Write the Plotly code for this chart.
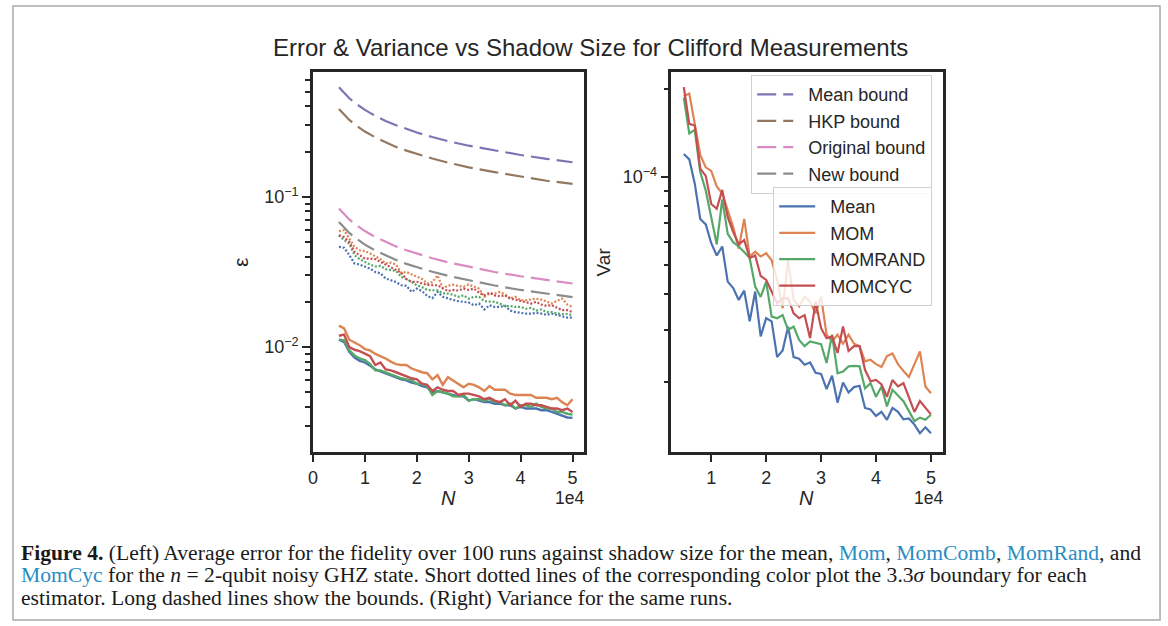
import plotly.graph_objects as go

# ---------------- data ----------------
N = [5000, 6000, 7000, 8000, 9000, 10000, 11000, 12000, 13000, 14000, 15000, 16000,
     17000, 18000, 19000, 20000, 21000, 22000, 23000, 24000, 25000, 26000, 27000, 28000,
     29000, 30000, 31000, 32000, 33000, 34000, 35000, 36000, 37000, 38000, 39000, 40000,
     41000, 42000, 43000, 44000, 45000, 46000, 47000, 48000, 49000, 50000]

# average error (solid lines, left)
err_mean = [0.0112, 0.0108, 0.0093, 0.0085, 0.0081, 0.0079, 0.0075, 0.0071, 0.0069, 0.0067,
            0.0065, 0.0063, 0.0061, 0.0060, 0.0058, 0.0057, 0.0055, 0.0054, 0.0050, 0.0051,
            0.0050, 0.0049, 0.0048, 0.0047, 0.0047, 0.0044, 0.0045, 0.0044, 0.0043, 0.0043,
            0.0042, 0.0042, 0.0041, 0.0041, 0.0039, 0.0040, 0.0039, 0.0039, 0.0039, 0.0038,
            0.0038, 0.0037, 0.0036, 0.0035, 0.0034, 0.00338]
err_mom = [0.0139, 0.0133, 0.0112, 0.0108, 0.0103, 0.0097, 0.0095, 0.0090, 0.0087, 0.0084,
           0.0080, 0.0077, 0.0076, 0.0076, 0.0072, 0.0070, 0.0068, 0.0067, 0.0061, 0.0065,
           0.0056, 0.0063, 0.0060, 0.0057, 0.0054, 0.0057, 0.0056, 0.0054, 0.0051, 0.0055,
           0.0052, 0.0052, 0.0052, 0.0049, 0.0048, 0.0048, 0.0048, 0.0048, 0.0046, 0.0046,
           0.0046, 0.0045, 0.0046, 0.0043, 0.0041, 0.0045]
err_momrand = [0.0112, 0.0111, 0.0095, 0.0088, 0.0084, 0.0082, 0.0077, 0.0070, 0.0070, 0.0068,
               0.0066, 0.0064, 0.0062, 0.0061, 0.0060, 0.0057, 0.0057, 0.0055, 0.0048, 0.0051,
               0.0050, 0.0049, 0.0047, 0.0047, 0.0048, 0.0044, 0.0045, 0.0045, 0.0044, 0.0045,
               0.0043, 0.0043, 0.0041, 0.0042, 0.0039, 0.0041, 0.0041, 0.0040, 0.0042, 0.0040,
               0.0039, 0.0039, 0.0037, 0.0037, 0.0036, 0.00355]
err_momcyc = [0.0119, 0.0121, 0.0100, 0.0096, 0.0094, 0.0090, 0.0087, 0.0076, 0.0079, 0.0071,
              0.0070, 0.0068, 0.0066, 0.0064, 0.0062, 0.0061, 0.0057, 0.0056, 0.0051, 0.0054,
              0.0052, 0.0051, 0.0051, 0.0048, 0.0049, 0.0049, 0.0048, 0.0047, 0.0045, 0.0046,
              0.0044, 0.0043, 0.0045, 0.0041, 0.0044, 0.0040, 0.0042, 0.0042, 0.0041, 0.0041,
              0.0040, 0.0039, 0.0039, 0.0038, 0.0039, 0.0037]

# 3.3 sigma boundaries (dotted lines, left)
sig_mean = [0.0465, 0.0458, 0.0409, 0.0360, 0.0354, 0.0342, 0.0333, 0.0316, 0.0310, 0.0286,
            0.0279, 0.0271, 0.0258, 0.0256, 0.0233, 0.0245, 0.0236, 0.0219, 0.0212, 0.0233,
            0.0216, 0.0210, 0.0206, 0.0202, 0.0200, 0.0198, 0.0190, 0.0195, 0.0178, 0.0190,
            0.0185, 0.0185, 0.0188, 0.0175, 0.0171, 0.0169, 0.0167, 0.0167, 0.0169, 0.0167,
            0.0164, 0.0167, 0.0163, 0.0159, 0.0157, 0.0157]
sig_mom = [0.0590, 0.0600, 0.0528, 0.0465, 0.0441, 0.0435, 0.0420, 0.0400, 0.0385, 0.0360,
           0.0365, 0.0354, 0.0312, 0.0316, 0.0305, 0.0296, 0.0284, 0.0265, 0.0270, 0.0300,
           0.0247, 0.0256, 0.0260, 0.0255, 0.0252, 0.0261, 0.0252, 0.0245, 0.0216, 0.0227,
           0.0227, 0.0233, 0.0224, 0.0210, 0.0216, 0.0205, 0.0205, 0.0208, 0.0210, 0.0207,
           0.0202, 0.0195, 0.0203, 0.0210, 0.0192, 0.0185]
sig_momrand = [0.0555, 0.0515, 0.0488, 0.0409, 0.0385, 0.0367, 0.0354, 0.0344, 0.0347, 0.0330,
               0.0325, 0.0321, 0.0293, 0.0284, 0.0271, 0.0258, 0.0251, 0.0240, 0.0239, 0.0239,
               0.0228, 0.0227, 0.0223, 0.0216, 0.0221, 0.0210, 0.0216, 0.0216, 0.0202, 0.0200,
               0.0200, 0.0195, 0.0187, 0.0188, 0.0185, 0.0185, 0.0180, 0.0182, 0.0175, 0.0178,
               0.0171, 0.0171, 0.0167, 0.0166, 0.0166, 0.0163]
sig_momcyc = [0.0555, 0.0540, 0.0501, 0.0430, 0.0409, 0.0388, 0.0388, 0.0385, 0.0369, 0.0354,
              0.0342, 0.0325, 0.0313, 0.0283, 0.0272, 0.0272, 0.0267, 0.0259, 0.0258, 0.0258,
              0.0246, 0.0236, 0.0240, 0.0238, 0.0245, 0.0240, 0.0245, 0.0230, 0.0221, 0.0230,
              0.0221, 0.0218, 0.0221, 0.0210, 0.0207, 0.0204, 0.0199, 0.0195, 0.0200, 0.0192,
              0.0188, 0.0190, 0.0183, 0.0176, 0.0176, 0.0171]

# bounds (long dashed, left)
N_bound = [5000, 6000, 7000, 8000, 9000, 10000, 12000, 14000, 16000, 18000, 20000,
           23000, 26000, 30000, 35000, 40000, 45000, 50000]
bound_mean = [0.536, 0.489, 0.453, 0.424, 0.400, 0.379, 0.346, 0.320, 0.300, 0.282, 0.268,
              0.250, 0.235, 0.219, 0.203, 0.190, 0.179, 0.170]
bound_hkp = [0.385, 0.351, 0.325, 0.304, 0.287, 0.272, 0.249, 0.230, 0.215, 0.203, 0.193,
             0.180, 0.169, 0.157, 0.146, 0.136, 0.128, 0.122]
bound_orig = [0.0837, 0.0764, 0.0707, 0.0662, 0.0624, 0.0592, 0.0540, 0.0500, 0.0468, 0.0441,
              0.0419, 0.0390, 0.0367, 0.0342, 0.0316, 0.0296, 0.0279, 0.0265]
bound_new = [0.0680, 0.0621, 0.0575, 0.0538, 0.0507, 0.0481, 0.0439, 0.0406, 0.0380, 0.0358,
             0.0340, 0.0317, 0.0298, 0.0278, 0.0257, 0.0240, 0.0227, 0.0215]

# variance (right)
var_mean = [1.20e-4, 1.15e-4, 9.5e-5, 7.2e-5, 6.9e-5, 5.95e-5, 5.4e-5, 5.8e-5, 4.4e-5, 4.18e-5,
            3.81e-5, 4.1e-5, 3.22e-5, 4.07e-5, 2.86e-5, 3.30e-5, 3.22e-5, 2.43e-5, 2.56e-5, 3.09e-5,
            2.43e-5, 2.40e-5, 2.29e-5, 2.33e-5, 2.15e-5, 2.13e-5, 1.89e-5, 2.10e-5, 1.70e-5, 1.99e-5,
            1.84e-5, 1.92e-5, 1.94e-5, 1.63e-5, 1.61e-5, 1.53e-5, 1.58e-5, 1.485e-5, 1.63e-5, 1.58e-5,
            1.49e-5, 1.50e-5, 1.43e-5, 1.337e-5, 1.40e-5, 1.337e-5]
var_mom = [1.89e-4, 1.93e-4, 1.52e-4, 1.19e-4, 1.08e-4, 1.05e-4, 9.3e-5, 8.8e-5, 7.7e-5, 6.75e-5,
           5.7e-5, 7.2e-5, 5.36e-5, 5.57e-5, 5.36e-5, 5.5e-5, 5.2e-5, 4.46e-5, 3.57e-5, 5.22e-5,
           3.81e-5, 3.62e-5, 3.91e-5, 3.76e-5, 3.43e-5, 3.91e-5, 2.9e-5, 2.75e-5, 2.9e-5, 2.7e-5,
           2.9e-5, 2.7e-5, 2.65e-5, 2.35e-5, 2.38e-5, 2.3e-5, 2.25e-5, 2.45e-5, 2.5e-5, 2.3e-5,
           2.18e-5, 2.08e-5, 2.3e-5, 2.54e-5, 1.93e-5, 1.83e-5]
var_momrand = [1.87e-4, 1.41e-4, 1.45e-4, 1.04e-4, 9.0e-5, 7.3e-5, 5.9e-5, 8.4e-5, 6.4e-5, 6.0e-5,
               5.8e-5, 5.55e-5, 5.3e-5, 4.23e-5, 3.9e-5, 4.4e-5, 3.34e-5, 3.3e-5, 3.38e-5, 3.01e-5,
               3.09e-5, 2.78e-5, 2.65e-5, 2.75e-5, 2.72e-5, 2.69e-5, 2.32e-5, 2.9e-5, 2.14e-5, 2.17e-5,
               2.26e-5, 2.27e-5, 2.26e-5, 1.9e-5, 1.98e-5, 1.78e-5, 1.93e-5, 1.65e-5, 1.88e-5, 1.8e-5,
               1.72e-5, 1.59e-5, 1.47e-5, 1.51e-5, 1.485e-5, 1.545e-5]
var_momcyc = [2.03e-4, 1.52e-4, 1.50e-4, 1.07e-4, 1.01e-4, 8.1e-5, 7.8e-5, 9.05e-5, 7.3e-5, 6.5e-5,
              5.9e-5, 6.1e-5, 5.3e-5, 5.4e-5, 4.6e-5, 4.46e-5, 4.07e-5, 3.71e-5, 3.86e-5, 3.86e-5,
              3.43e-5, 3.30e-5, 3.38e-5, 2.82e-5, 3.76e-5, 3.05e-5, 2.82e-5, 2.86e-5, 2.51e-5, 3.09e-5,
              2.55e-5, 2.65e-5, 2.65e-5, 2.20e-5, 2.01e-5, 2.03e-5, 1.96e-5, 1.78e-5, 2.03e-5, 1.93e-5,
              1.98e-5, 1.76e-5, 1.58e-5, 1.72e-5, 1.63e-5, 1.55e-5]

estimator_names = ["Mean", "MOM", "MOMRAND", "MOMCYC"]
bound_names = ["Mean bound", "HKP bound", "Original bound", "New bound"]

x_tick_vals = [0, 10000, 20000, 30000, 40000, 50000]
x_tick_text = ["0", "1", "2", "3", "4", "5"]

# ---------------- styling ----------------
W, H = 1168, 626
INK = "#262626"
FONT = "Liberation Sans, Arial, sans-serif"
est_colors = ["#4c72b0", "#dd8452", "#55a868", "#c44e52"]
bnd_colors = ["#8172b3", "#937860", "#da8bc3", "#8c8c8c"]
PAD = "\u00a0\u00a0"


def px(x):
    return x / W


def py(y):
    return 1 - y / H


fig = go.Figure()

# left: 3.3 sigma dotted
for ys, c in zip([sig_mean, sig_mom, sig_momrand, sig_momcyc], est_colors):
    fig.add_trace(go.Scatter(x=N, y=ys, mode="lines", xaxis="x", yaxis="y",
                             line=dict(color=c, width=2.2, dash="2px,1.8px"),
                             showlegend=False, hoverinfo="skip"))
# left: errors solid
for ys, c in zip([err_mean, err_mom, err_momrand, err_momcyc], est_colors):
    fig.add_trace(go.Scatter(x=N, y=ys, mode="lines", xaxis="x", yaxis="y",
                             line=dict(color=c, width=2.4),
                             showlegend=False, hoverinfo="skip"))
# left: bounds (legend 1)
for ys, c, nm in zip([bound_mean, bound_hkp, bound_orig, bound_new], bnd_colors, bound_names):
    fig.add_trace(go.Scatter(x=N_bound, y=ys, mode="lines", xaxis="x", yaxis="y",
                             name=PAD + nm, legend="legend",
                             line=dict(color=c, width=2.2, dash="19px,7px"),
                             hoverinfo="skip"))
# right: variance (legend 2)
for ys, c, nm in zip([var_mean, var_mom, var_momrand, var_momcyc], est_colors, estimator_names):
    fig.add_trace(go.Scatter(x=N, y=ys, mode="lines", xaxis="x2", yaxis="y2",
                             name=PAD + nm, legend="legend2",
                             line=dict(color=c, width=2.2),
                             hoverinfo="skip"))

axis_common = dict(showline=True, mirror=True, linewidth=2.6, linecolor=INK,
                   ticks="outside", ticklen=8, tickwidth=2.4, tickcolor=INK,
                   showgrid=False, zeroline=False,
                   tickfont=dict(family=FONT, size=18, color=INK))

ydom = [py(451.5), py(71.7)]

fig.update_layout(
    width=W, height=H,
    margin=dict(l=0, r=0, t=0, b=0),
    paper_bgcolor="white", plot_bgcolor="white",
    xaxis=dict(domain=[px(309.3), px(581.7)], range=[0, 52250], anchor="y",
               tickmode="array", tickvals=x_tick_vals, ticktext=x_tick_text, **axis_common),
    yaxis=dict(domain=ydom, type="log", range=[-2.695, -0.167], anchor="x",
               tickmode="array", tickvals=[0.01, 0.1],
               ticktext=["10<sup>−2</sup>", "10<sup>−1</sup>"],
               minor=dict(tickmode="array",
                          tickvals=[0.002, 0.003, 0.004, 0.005, 0.006, 0.007, 0.008, 0.009,
                                    0.02, 0.03, 0.04, 0.05, 0.06, 0.07, 0.08, 0.09,
                                    0.2, 0.3, 0.4, 0.5, 0.6],
                          ticks="outside", ticklen=5, tickwidth=2, tickcolor=INK),
               **axis_common),
    xaxis2=dict(domain=[px(669.3), px(942.3)], range=[2750, 52250], anchor="y2",
                tickmode="array", tickvals=x_tick_vals[1:], ticktext=x_tick_text[1:],
                **axis_common),
    yaxis2=dict(domain=ydom, type="log", range=[-4.9365, -3.640], anchor="x2",
                tickmode="array", tickvals=[1e-4], ticktext=["10<sup>−4</sup>"],
                minor=dict(tickmode="array",
                           tickvals=[2e-5, 3e-5, 4e-5, 5e-5, 6e-5, 7e-5, 8e-5, 9e-5, 2e-4],
                           ticks="outside", ticklen=5, tickwidth=2, tickcolor=INK),
                **axis_common),
    legend=dict(x=px(931), xanchor="right", y=py(75), yanchor="top",
                bgcolor="rgba(255,255,255,0.8)", bordercolor="#d0d0d0", borderwidth=1.2,
                font=dict(family=FONT, size=18, color=INK), itemwidth=36,
                tracegroupgap=0),
    legend2=dict(x=px(931), xanchor="right", y=py(187), yanchor="top",
                 bgcolor="rgba(255,255,255,0.8)", bordercolor="#d0d0d0", borderwidth=1.2,
                 font=dict(family=FONT, size=18, color=INK), itemwidth=36,
                 tracegroupgap=0),
)

annotations = [
    dict(text="Error & Variance vs Shadow Size for Clifford Measurements",
         x=px(588), y=py(47), font=dict(family=FONT, size=24, color=INK)),
    dict(text="<i>N</i>", x=px(445), y=py(498), font=dict(family=FONT, size=20, color=INK)),
    dict(text="<i>N</i>", x=px(805), y=py(498), font=dict(family=FONT, size=20, color=INK)),
    dict(text="1e4", x=px(583), y=py(498), xanchor="right",
         font=dict(family=FONT, size=17.5, color=INK)),
    dict(text="1e4", x=px(944), y=py(498), xanchor="right",
         font=dict(family=FONT, size=17.5, color=INK)),
    dict(text="ε", x=px(236), y=py(262), textangle=-90,
         font=dict(family=FONT, size=21, color=INK)),
    dict(text="Var", x=px(601), y=py(262), textangle=-90,
         font=dict(family=FONT, size=19, color=INK)),
]
LINK = "#2a8dc2"
SERIF = "Liberation Serif, Times New Roman, serif"
cap_lines = [
    "<b>Figure 4.</b> (Left) Average error for the fidelity over 100 runs against shadow size for the mean, "
    f"<span style='color:{LINK}'>Mom</span>, <span style='color:{LINK}'>MomComb</span>, "
    f"<span style='color:{LINK}'>MomRand</span>, and",
    f"<span style='color:{LINK}'>MomCyc</span> for the <i>n</i> = 2-qubit noisy GHZ state. Short dotted lines "
    "of the corresponding color plot the 3.3<i>σ</i> boundary for each",
    "estimator. Long dashed lines show the bounds. (Right) Variance for the same runs.",
]
for txt, yy in zip(cap_lines, [553, 575, 598]):
    annotations.append(dict(text=txt, x=px(14), y=py(yy), xanchor="left",
                            font=dict(family=SERIF, size=21.6, color="#1a1a1a")))
for a in annotations:
    a.setdefault("xanchor", "center")
    a.update(xref="paper", yref="paper", yanchor="middle", showarrow=False)
fig.update_layout(annotations=annotations)

fig.add_shape(type="rect", xref="paper", yref="paper",
              x0=px(8), x1=px(1160), y0=py(620), y1=py(6),
              line=dict(color="#a9a9a9", width=1.5), fillcolor="rgba(0,0,0,0)", layer="below")

fig.write_html("out.html")
